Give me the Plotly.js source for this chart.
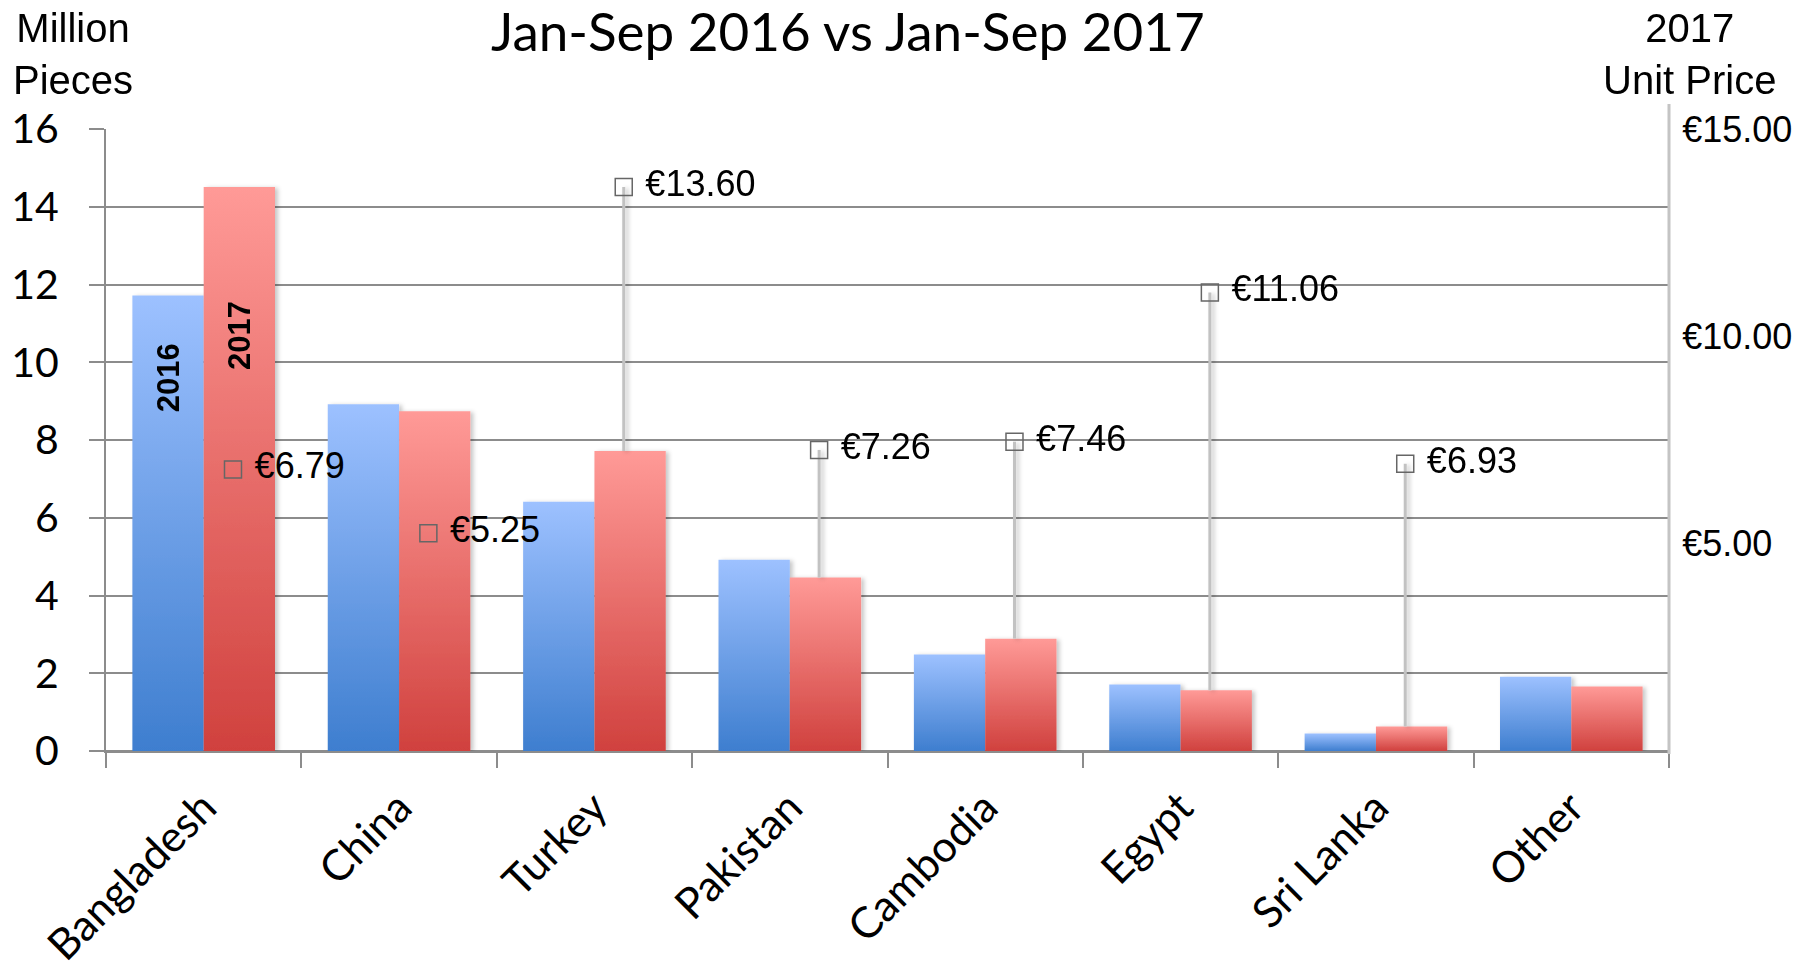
<!DOCTYPE html>
<html><head><meta charset="utf-8">
<script src="https://cdn.plot.ly/plotly-3.0.1.min.js"></script>
<style>html,body{margin:0;padding:0;background:#fff}#chart{width:1804px;height:968px}</style>
</head><body><div id="chart"></div>
<script>
// ---- data ----
const categories = ['Bangladesh', 'China', 'Turkey', 'Pakistan', 'Cambodia', 'Egypt', 'Sri Lanka', 'Other'];
const pieces2016 = [11.72, 8.92, 6.41, 4.92, 2.48, 1.71, 0.45, 1.91];
const pieces2017 = [14.51, 8.74, 7.72, 4.46, 2.89, 1.56, 0.63, 1.66];
const unitPrice2017 = [6.79, 5.25, 13.60, 7.26, 7.46, 11.06, 6.93, null];
const seriesNames = ['2016', '2017'];
const priceTickVals = [5, 10, 15];
const titleText = 'Jan-Sep 2016 vs Jan-Sep 2017';
const leftAxisTitle = 'Million<br>Pieces';
const rightAxisTitle = '2017<br>Unit Price';

// ---- styling constants ----
const LEFT_MAX = 16, RIGHT_MAX = 15;
const PRICE_SHIFT = 0.15;
const GRID = '#8c8c8c';
const CAL = 'Lato, "Open Sans", sans-serif';
const ARIAL = '"Liberation Sans", Arial, sans-serif';
const euro = v => '€' + v.toFixed(2);

const idx = categories.map((c, i) => i);

const bar2016 = {
  type: 'bar', name: seriesNames[0], x: categories, y: pieces2016,
  marker: {color: '#6a9ee6'}, xaxis: 'x', yaxis: 'y'
};
const bar2017 = {
  type: 'bar', name: seriesNames[1], x: categories, y: pieces2017,
  marker: {color: '#e46a67'}, xaxis: 'x', yaxis: 'y'
};

const lx = [], ly = [];
idx.forEach(i => {
  const p = unitPrice2017[i];
  if (p == null) return;
  const barTopInPrice = pieces2017[i] * RIGHT_MAX / LEFT_MAX;
  if (p > barTopInPrice) {
    lx.push(i + PRICE_SHIFT, i + PRICE_SHIFT, null);
    ly.push(p, barTopInPrice, null);
  }
});
const connectors = {
  type: 'scatter', mode: 'lines', x: lx, y: ly, xaxis: 'x2', yaxis: 'y2',
  line: {color: '#c2c2c2', width: 3}, showlegend: false, hoverinfo: 'skip'
};

const pIdx = idx.filter(i => unitPrice2017[i] != null);
const priceMarks = {
  type: 'scatter', mode: 'markers+text',
  x: pIdx.map(i => i + PRICE_SHIFT),
  y: pIdx.map(i => unitPrice2017[i]),
  text: pIdx.map(i => '\u00a0' + euro(unitPrice2017[i])),
  textposition: 'middle right',
  textfont: {family: ARIAL, size: 36, color: '#000'},
  marker: {symbol: 'square-open', size: 17, color: '#666', line: {width: 1.5, color: '#666'}},
  xaxis: 'x2', yaxis: 'y2', showlegend: false, cliponaxis: false
};

const layout = {
  width: 1804, height: 968,
  margin: {l: 106, r: 135, t: 129, b: 217},
  paper_bgcolor: '#fff', plot_bgcolor: '#fff',
  showlegend: false,
  barmode: 'group', bargap: 0.27, bargroupgap: 0,
  title: {
    text: titleText, font: {family: CAL, size: 53, color: '#000'},
    xref: 'container', x: 0.47, xanchor: 'center',
    yref: 'container', y: 0.966, yanchor: 'middle'
  },
  xaxis: {
    type: 'category', tickson: 'boundaries', ticks: 'outside', ticklen: 15,
    tickcolor: GRID, tickwidth: 2, showline: true, linecolor: GRID, linewidth: 2,
    tickangle: -45, tickfont: {family: CAL, size: 43, color: '#000'},
    ticklabelstandoff: 12,
    showgrid: false
  },
  xaxis2: {
    overlaying: 'x', range: [-0.5, categories.length - 0.5], visible: false, fixedrange: true
  },
  yaxis: {
    range: [0, LEFT_MAX], dtick: 2, tick0: 0,
    showgrid: true, gridcolor: GRID, gridwidth: 2,
    zeroline: true, zerolinecolor: GRID, zerolinewidth: 2,
    showline: true, linecolor: GRID, linewidth: 2,
    ticks: 'outside', ticklen: 15, tickcolor: GRID, tickwidth: 2,
    ticklabelstandoff: 22,
    tickfont: {family: CAL, size: 41, color: '#000'}
  },
  yaxis2: {
    overlaying: 'y', side: 'right', range: [0, RIGHT_MAX],
    showgrid: false, zeroline: false, showline: false,
    ticks: 'outside', ticklen: 5, tickcolor: 'rgba(0,0,0,0)',
    tickmode: 'array', tickvals: priceTickVals, ticktext: priceTickVals.map(euro),
    tickfont: {family: ARIAL, size: 36, color: '#000'}
  },
  shapes: [
    {type: 'line', xref: 'paper', yref: 'paper', x0: 1, x1: 1, y0: -0.005, y1: 1.04,
     line: {color: '#c4c4c4', width: 3}, layer: 'above'}
  ],
  annotations: [
    {text: leftAxisTitle, xref: 'paper', yref: 'paper', x: -0.021, y: 1.12,
     xanchor: 'center', yanchor: 'middle', showarrow: false, align: 'center',
     font: {family: ARIAL, size: 40, color: '#000'}},
    {text: rightAxisTitle, xref: 'paper', yref: 'paper', x: 1.0128, y: 1.12,
     xanchor: 'center', yanchor: 'middle', showarrow: false, align: 'center',
     font: {family: ARIAL, size: 40, color: '#000'}},
    {text: '<b>' + seriesNames[0] + '</b>', xref: 'x', yref: 'y', x: -0.18, y: 9.6,
     textangle: -90, showarrow: false, font: {family: ARIAL, size: 31, color: '#000'}},
    {text: '<b>' + seriesNames[1] + '</b>', xref: 'x', yref: 'y', x: 0.18, y: 10.7,
     textangle: -90, showarrow: false, font: {family: ARIAL, size: 31, color: '#000'}}
  ]
};

Plotly.newPlot('chart', [bar2016, bar2017, connectors, priceMarks], layout, {staticPlot: true, displayModeBar: false})
.then(gd => {
  const ns = 'http://www.w3.org/2000/svg';
  const svg = gd.querySelector('.main-svg');
  let defs = svg.querySelector('defs');
  if (!defs) { defs = document.createElementNS(ns, 'defs'); svg.insertBefore(defs, svg.firstChild); }
  function addGrad(id, top, bottom) {
    const g = document.createElementNS(ns, 'linearGradient');
    g.setAttribute('id', id);
    g.setAttribute('x1', '0'); g.setAttribute('y1', '0');
    g.setAttribute('x2', '0'); g.setAttribute('y2', '1');
    [[0, top], [1, bottom]].forEach(([o, c]) => {
      const s = document.createElementNS(ns, 'stop');
      s.setAttribute('offset', o); s.setAttribute('stop-color', c);
      g.appendChild(s);
    });
    defs.appendChild(g);
  }
  addGrad('gradBlue', '#9dc1ff', '#3e7ecf');
  addGrad('gradRed', '#ff9a97', '#d0413e');
  const f = document.createElementNS(ns, 'filter');
  f.setAttribute('id', 'barShadow');
  f.setAttribute('x', '-20%'); f.setAttribute('y', '-20%');
  f.setAttribute('width', '140%'); f.setAttribute('height', '140%');
  const ds = document.createElementNS(ns, 'feDropShadow');
  ds.setAttribute('dx', '3'); ds.setAttribute('dy', '1');
  ds.setAttribute('stdDeviation', '2');
  ds.setAttribute('flood-color', '#000'); ds.setAttribute('flood-opacity', '0.22');
  f.appendChild(ds); defs.appendChild(f);
  const ids = ['gradBlue', 'gradRed'];
  gd.querySelectorAll('.barlayer .trace').forEach((t, k) => {
    t.querySelectorAll('path').forEach(p => { p.style.fill = 'url(#' + ids[k] + ')'; p.style.fillOpacity = 1; });
    t.setAttribute('filter', 'url(#barShadow)');
  });
  gd.querySelectorAll('.scatterlayer .trace').forEach(t => {
    if (t.querySelector('.js-line')) t.setAttribute('filter', 'url(#barShadow)');
  });
});
</script>
</body></html>
